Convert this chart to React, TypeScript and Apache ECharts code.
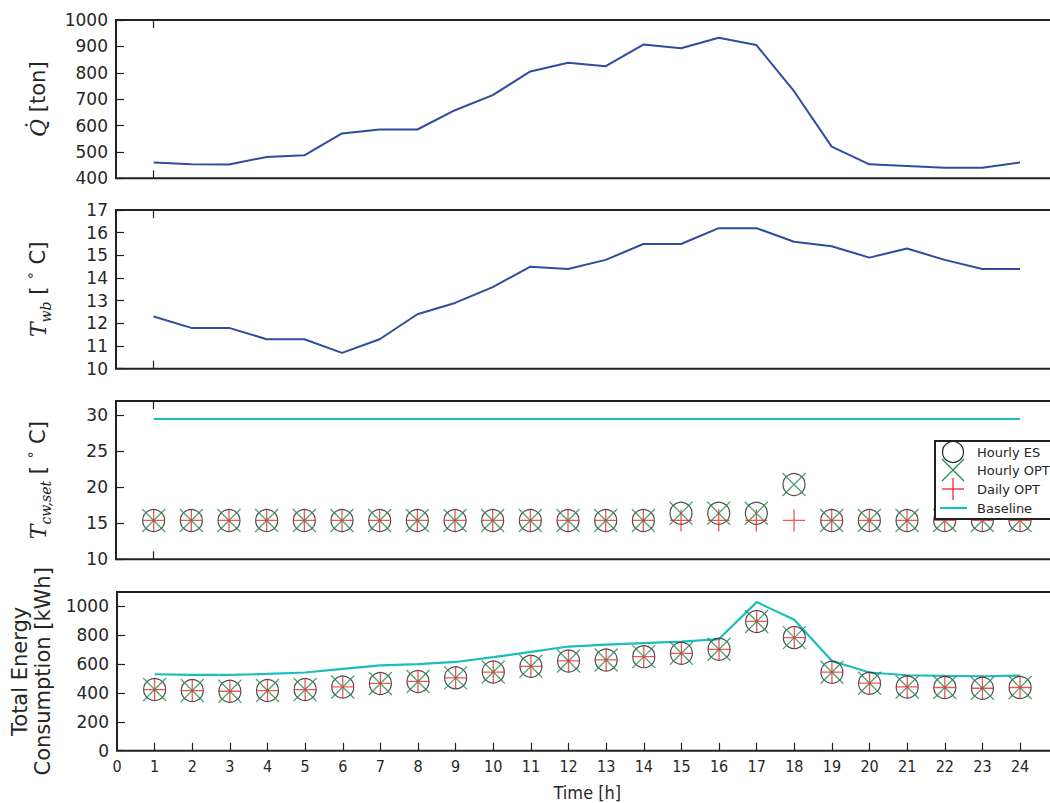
import React, { useEffect, useRef } from "react";
import * as echarts from "echarts";

const hours = [1, 2, 3, 4, 5, 6, 7, 8, 9, 10, 11, 12, 13, 14, 15, 16, 17, 18, 19, 20, 21, 22, 23, 24];
const xTickLabels = [0, 1, 2, 3, 4, 5, 6, 7, 8, 9, 10, 11, 12, 13, 14, 15, 16, 17, 18, 19, 20, 21, 22, 23, 24];

const coolingLoad = [460, 453, 452, 481, 487, 570, 585, 585, 658, 715, 805, 838, 825, 907, 893, 933, 905, 730, 520, 453, 447, 440, 440, 460];
const wetBulb = [12.3, 11.8, 11.8, 11.3, 11.3, 10.7, 11.3, 12.4, 12.9, 13.6, 14.5, 14.4, 14.8, 15.5, 15.5, 16.2, 16.2, 15.6, 15.4, 14.9, 15.3, 14.8, 14.4, 14.4];

const tcwHourlyES = [15.4, 15.4, 15.4, 15.4, 15.4, 15.4, 15.4, 15.4, 15.4, 15.4, 15.4, 15.4, 15.4, 15.4, 16.4, 16.4, 16.4, 20.4, 15.4, 15.4, 15.4, 15.4, 15.4, 15.4];
const tcwHourlyOPT = [15.4, 15.4, 15.4, 15.4, 15.4, 15.4, 15.4, 15.4, 15.4, 15.4, 15.4, 15.4, 15.4, 15.4, 16.4, 16.4, 16.4, 20.4, 15.4, 15.4, 15.4, 15.4, 15.4, 15.4];
const tcwDailyOPT = [15.4, 15.4, 15.4, 15.4, 15.4, 15.4, 15.4, 15.4, 15.4, 15.4, 15.4, 15.4, 15.4, 15.4, 15.4, 15.4, 15.4, 15.4, 15.4, 15.4, 15.4, 15.4, 15.4, 15.4];
const tcwBaseline = [29.5, 29.5, 29.5, 29.5, 29.5, 29.5, 29.5, 29.5, 29.5, 29.5, 29.5, 29.5, 29.5, 29.5, 29.5, 29.5, 29.5, 29.5, 29.5, 29.5, 29.5, 29.5, 29.5, 29.5];

const energyHourlyES = [424, 417, 412, 417, 424, 442, 466, 480, 505, 545, 585, 622, 629, 652, 675, 703, 896, 784, 544, 468, 442, 438, 433, 438];
const energyHourlyOPT = [424, 417, 412, 417, 424, 442, 466, 480, 505, 545, 585, 622, 629, 652, 675, 703, 896, 784, 544, 468, 442, 438, 433, 438];
const energyDailyOPT = [424, 417, 412, 417, 424, 442, 466, 480, 505, 545, 585, 622, 629, 652, 675, 703, 896, 784, 544, 468, 442, 438, 433, 438];
const energyBaseline = [530, 525, 525, 532, 542, 567, 592, 600, 615, 648, 685, 722, 735, 746, 756, 774, 1030, 908, 622, 542, 523, 518, 516, 521];

const yTicksQ = [400, 500, 600, 700, 800, 900, 1000];
const yTicksTwb = [10, 11, 12, 13, 14, 15, 16, 17];
const yTicksTcw = [10, 15, 20, 25, 30];
const yTicksE = [0, 200, 400, 600, 800, 1000];

const BLUE = "#2f4c9e";
const GREEN = "#1f8f4a";
const RED = "#f0282d";
const CYAN = "#1bbdbd";
const INK = "#222222";

const X_PATH = "path://M0,0L20,20M20,0L0,20";
const PLUS_PATH = "path://M10,0L10,20M0,10L20,10";

const pairs = (vals: number[]) => hours.map((h, i) => [h, vals[i]]);
const plain = (v: number) => String(v);

export default function App() {
  const ref = useRef<HTMLDivElement>(null);

  useEffect(() => {
    if (!ref.current) return;
    const chart = echarts.init(ref.current, null, { renderer: "svg" });

    const gridTops = [20, 210, 401, 592];
    const gridHeights = [158.3, 158.7, 158.3, 158.7];
    const grids = gridTops.map((t, i) => ({
      left: 116,
      top: t,
      width: 941.7,
      height: gridHeights[i],
      show: true,
      borderColor: INK,
      borderWidth: 2,
      backgroundColor: "transparent",
    }));

    const tickFont = { fontFamily: "DejaVu Sans", fontSize: 17, color: "#262626" };

    const xAxes: any[] = [];
    for (let g = 0; g < 4; g++) {
      const isBottom = g === 3;
      xAxes.push({
        type: "value",
        gridIndex: g,
        position: "bottom",
        min: 0,
        max: 25,
        interval: 1,
        axisLine: { show: false },
        splitLine: { show: false },
        axisTick: {
          show: true,
          inside: true,
          length: 8,
          lineStyle: { color: INK, width: 1.2 },
          customValues: isBottom ? hours : [1],
        },
        axisLabel: isBottom
          ? {
              show: true,
              customValues: xTickLabels,
              formatter: plain,
              margin: 8,
              fontFamily: "DejaVu Sans Condensed",
              fontSize: 16,
              color: "#262626",
            }
          : { show: false },
        name: isBottom ? "Time [h]" : "",
        nameLocation: "middle",
        nameGap: 33,
        nameTextStyle: { fontFamily: "DejaVu Sans Condensed", fontSize: 18, color: "#262626" },
      });
      if (!isBottom) {
        xAxes.push({
          type: "value",
          gridIndex: g,
          position: "top",
          min: 0,
          max: 25,
          interval: 1,
          axisLine: { show: false },
          splitLine: { show: false },
          axisTick: { show: true, inside: true, length: 8, lineStyle: { color: INK, width: 1.2 }, customValues: [1] },
          axisLabel: { show: false },
        });
      }
    }
    const xIdx = [0, 2, 4, 6];

    const nameStyleBase = { fontFamily: "DejaVu Sans", fontSize: 21, color: "#262626" };
    const mk = (g: number, min: number, max: number, ticks: number[], name: string, rich: any, gap: number, extra: any = {}) => ({
      type: "value",
      gridIndex: g,
      min,
      max,
      axisLine: { show: false },
      splitLine: { show: false },
      axisTick: { show: true, inside: true, length: 8, lineStyle: { color: INK, width: 1.2 }, customValues: ticks },
      axisLabel: { show: true, customValues: ticks, formatter: plain, margin: 8, ...tickFont },
      name,
      nameLocation: "middle",
      nameGap: gap,
      nameTextStyle: { ...nameStyleBase, rich, ...extra },
    });

    const serifI = { fontFamily: "DejaVu Serif", fontStyle: "italic", fontSize: 22, lineHeight: 30, color: "#262626" };
    const sub = { fontFamily: "DejaVu Serif", fontStyle: "italic", fontSize: 14, lineHeight: 14, verticalAlign: "bottom", color: "#262626" };
    const norm = { fontFamily: "DejaVu Sans", fontSize: 21, lineHeight: 30, color: "#262626" };
    const deg = { fontFamily: "DejaVu Sans", fontSize: 14, lineHeight: 18, verticalAlign: "top", color: "#262626" };

    const yAxes = [
      mk(0, 400, 1000, yTicksQ, "{i|Q\u0307}{n| [ton]}", { i: serifI, n: norm }, 63),
      mk(1, 10, 17, yTicksTwb, "{i|T}{s|wb}{n| [ }{d|\u2218}{n| C]}", { i: serifI, s: sub, n: norm, d: deg }, 63),
      mk(2, 10, 32, yTicksTcw, "{i|T}{s|cw,set}{n| [ }{d|\u2218}{n| C]}", { i: serifI, s: sub, n: norm, d: deg }, 63),
      mk(3, 0, 1100, yTicksE, "Total Energy\nConsumption [kWh]", {}, 63, { lineHeight: 23 }),
    ];

    const markerSeries = (g: number, es: number[], opt: number[], daily: number[], base: number[]) => [
      {
        type: "line",
        name: "Baseline",
        xAxisIndex: xIdx[g],
        yAxisIndex: g,
        data: pairs(base),
        symbol: "none",
        lineStyle: { color: CYAN, width: 2.2 },
        z: 2,
      },
      {
        type: "scatter",
        name: "Hourly ES",
        xAxisIndex: xIdx[g],
        yAxisIndex: g,
        data: pairs(es),
        symbol: "circle",
        symbolSize: 22,
        itemStyle: { color: "rgba(0,0,0,0)", borderColor: INK, borderWidth: 1.2 },
        z: 3,
      },
      {
        type: "scatter",
        name: "Hourly OPT",
        xAxisIndex: xIdx[g],
        yAxisIndex: g,
        data: pairs(opt),
        symbol: X_PATH,
        symbolSize: 23,
        itemStyle: { color: "rgba(0,0,0,0)", borderColor: GREEN, borderWidth: 1.3 },
        z: 4,
      },
      {
        type: "scatter",
        name: "Daily OPT",
        xAxisIndex: xIdx[g],
        yAxisIndex: g,
        data: pairs(daily),
        symbol: PLUS_PATH,
        symbolSize: 22,
        itemStyle: { color: "rgba(0,0,0,0)", borderColor: RED, borderWidth: 1.3 },
        z: 5,
      },
    ];

    const series: any[] = [
      {
        type: "line",
        xAxisIndex: xIdx[0],
        yAxisIndex: 0,
        data: pairs(coolingLoad),
        symbol: "none",
        lineStyle: { color: BLUE, width: 2 },
      },
      {
        type: "line",
        xAxisIndex: xIdx[1],
        yAxisIndex: 1,
        data: pairs(wetBulb),
        symbol: "none",
        lineStyle: { color: BLUE, width: 2 },
      },
      ...markerSeries(2, tcwHourlyES, tcwHourlyOPT, tcwDailyOPT, tcwBaseline),
      ...markerSeries(3, energyHourlyES, energyHourlyOPT, energyDailyOPT, energyBaseline),
    ];

    const lx = 953;
    const legendText = (y: number, t: string) => ({
      type: "text",
      z: 101,
      style: { x: 977, y, text: t, fontFamily: "DejaVu Sans", fontSize: 13, fill: "#262626", verticalAlign: "middle", align: "left" },
    });
    const graphic: any[] = [
      {
        type: "rect",
        z: 100,
        shape: { x: 935, y: 441, width: 140, height: 78 },
        style: { fill: "#ffffff", stroke: INK, lineWidth: 2 },
      },
      { type: "circle", z: 101, shape: { cx: lx, cy: 452, r: 10.5 }, style: { fill: "none", stroke: INK, lineWidth: 1.2 } },
      { type: "line", z: 101, shape: { x1: lx - 11, y1: 459, x2: lx + 11, y2: 481 }, style: { stroke: GREEN, lineWidth: 1.3 } },
      { type: "line", z: 101, shape: { x1: lx + 11, y1: 459, x2: lx - 11, y2: 481 }, style: { stroke: GREEN, lineWidth: 1.3 } },
      { type: "line", z: 101, shape: { x1: lx - 11, y1: 489, x2: lx + 11, y2: 489 }, style: { stroke: RED, lineWidth: 1.3 } },
      { type: "line", z: 101, shape: { x1: lx, y1: 478, x2: lx, y2: 500 }, style: { stroke: RED, lineWidth: 1.3 } },
      { type: "line", z: 101, shape: { x1: 940, y1: 508, x2: 967, y2: 508 }, style: { stroke: CYAN, lineWidth: 2.2 } },
      legendText(452, "Hourly ES"),
      legendText(470, "Hourly OPT"),
      legendText(489, "Daily OPT"),
      legendText(508, "Baseline"),
    ];

    chart.setOption({
      animation: false,
      backgroundColor: "#ffffff",
      grid: grids,
      xAxis: xAxes,
      yAxis: yAxes,
      series,
      graphic,
    });

    return () => chart.dispose();
  }, []);

  return (
    <div style={{ position: "absolute", left: 0, top: 0, width: 1050, height: 803, overflow: "hidden" }}>
      <div ref={ref} style={{ width: 1070, height: 803 }} />
    </div>
  );
}
